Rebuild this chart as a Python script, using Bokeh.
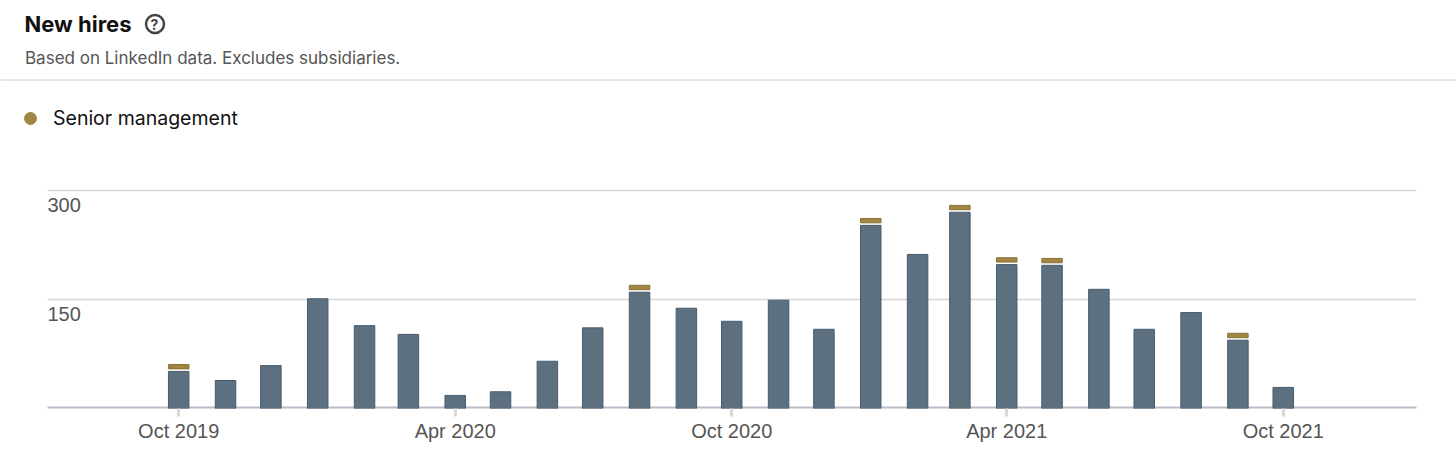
from datetime import datetime, timezone
from bokeh.embed import file_html
from bokeh.resources import INLINE
from bokeh.plotting import figure
from bokeh.models import Range1d, Label, Span, FixedTicker, DatetimeAxis, DatetimeTickFormatter
from bokeh.core.properties import value

months = ["2019-10","2019-11","2019-12","2020-01","2020-02","2020-03","2020-04","2020-05","2020-06",
          "2020-07","2020-08","2020-09","2020-10","2020-11","2020-12","2021-01","2021-02","2021-03",
          "2021-04","2021-05","2021-06","2021-07","2021-08","2021-09","2021-10"]
other_hires = [51,38.5,59,151,114,102,18,23,65,111,160,138,120,149,109,252,212,270,198,197,164,109,132,94,29]
senior_hires = [6,0,0,0,0,0,0,0,0,0,6,0,0,0,0,6,0,6,6,6,0,0,0,6,0]
x_tick_months = ["2019-10","2020-04","2020-10","2021-04","2021-10"]
y_ticks = [150, 300]
y_tick_labels = ["150", "300"]

GAP = 3.5
MS_DAY = 86400000.0
PX_DAY = 1.511
SCALE = 0.7267

def ms(m):
    y, mo = m.split("-")
    return datetime(int(y), int(mo), 1, tzinfo=timezone.utc).timestamp() * 1000

x0 = ms("2019-10") - 178.2 / PX_DAY * MS_DAY
x1 = x0 + 1456 / PX_DAY * MS_DAY
y1 = 408 / SCALE
def X(px): return x0 + px / PX_DAY * MS_DAY
def Y(py): return (408 - py) / SCALE

p = figure(width=1456, height=467, output_backend="svg", toolbar_location=None,
           x_range=Range1d(x0, x1), y_range=Range1d(0, y1),
           min_border_left=0, min_border_right=0, min_border_top=0, min_border_bottom=59,
           x_axis_type=None, y_axis_type=None, outline_line_color=None)
p.grid.visible = False
p.background_fill_color = "#ffffff"

xs = [ms(m) for m in months]
w = 20.5 / PX_DAY * MS_DAY
# gridlines and baseline
for t in y_ticks:
    p.segment([X(47)], [t], [X(1416)], [t], line_color="#d6d6d6", line_width=1.5)
p.segment([X(47)], [1.2], [X(1416)], [1.2], line_color="#b9bdc9", line_width=2.5)

p.vbar(x=xs, bottom=0, top=other_hires, width=w, fill_color="#5d7080", line_color="#465c6e", line_width=1)
sx = [x for x, s in zip(xs, senior_hires) if s]
sb = [o + GAP for o, s in zip(other_hires, senior_hires) if s]
st = [o + GAP + s for o, s in zip(other_hires, senior_hires) if s]
p.vbar(x=sx, bottom=sb, top=st, width=w, fill_color="#a08642", line_color="#8a7233", line_width=1)

# axis
ax = DatetimeAxis(ticker=FixedTicker(ticks=[ms(m) for m in x_tick_months]))
fmt = "%b %Y"
ax.formatter = DatetimeTickFormatter(days=fmt, months=fmt, years=fmt, hours=fmt, minutes=fmt,
                                     seconds=fmt, milliseconds=fmt, microseconds=fmt, context=None)
ax.axis_line_color = None
ax.major_tick_in = 0
ax.major_tick_out = 8
ax.major_tick_line_color = "#d9d9d9"
ax.major_tick_line_width = 3
ax.minor_tick_line_color = None
ax.major_label_text_font = "Liberation Sans"
ax.major_label_text_font_size = "20px"
ax.major_label_text_color = "#555555"
ax.major_label_standoff = 3
p.add_layout(ax, "below")

# y tick labels (inside the plot, under their gridlines)
p.text(x=[X(47)] * len(y_ticks), y=y_ticks, text=y_tick_labels, text_font=value("Liberation Sans"),
       text_font_size="20px", text_color="#555555", text_baseline="top", text_align="left", y_offset=8)

# header
def label(txt, px, py, font, size, color, style="normal"):
    p.add_layout(Label(x=X(px), y=Y(py), text=txt, text_font=font, text_font_size=size, text_color=color,
                       text_font_style=style, text_baseline="middle", text_align="left"))

label("New hires", 24, 23, "Inter", "22px", "#111111", "bold")
label("Based on LinkedIn data. Excludes subsidiaries.", 24.5, 57, "Inter", "17px", "#555555")
label("?", 150, 24, "Inter", "14px", "#444444", "bold")
p.scatter([X(154.5)], [Y(23.5)], size=18, marker="circle", fill_color=None, line_color="#444444", line_width=2.5)
p.add_layout(Span(location=Y(79.5), dimension="width", line_color="#d0d0d0", line_width=1))

# legend
p.scatter([X(30)], [Y(118)], size=12, marker="circle", fill_color="#a08642", line_color="#a08642")
label("Senior management", 52.5, 117, "Inter", "19.5px", "#111111")

open("out.html", "w").write(file_html(p, INLINE))
